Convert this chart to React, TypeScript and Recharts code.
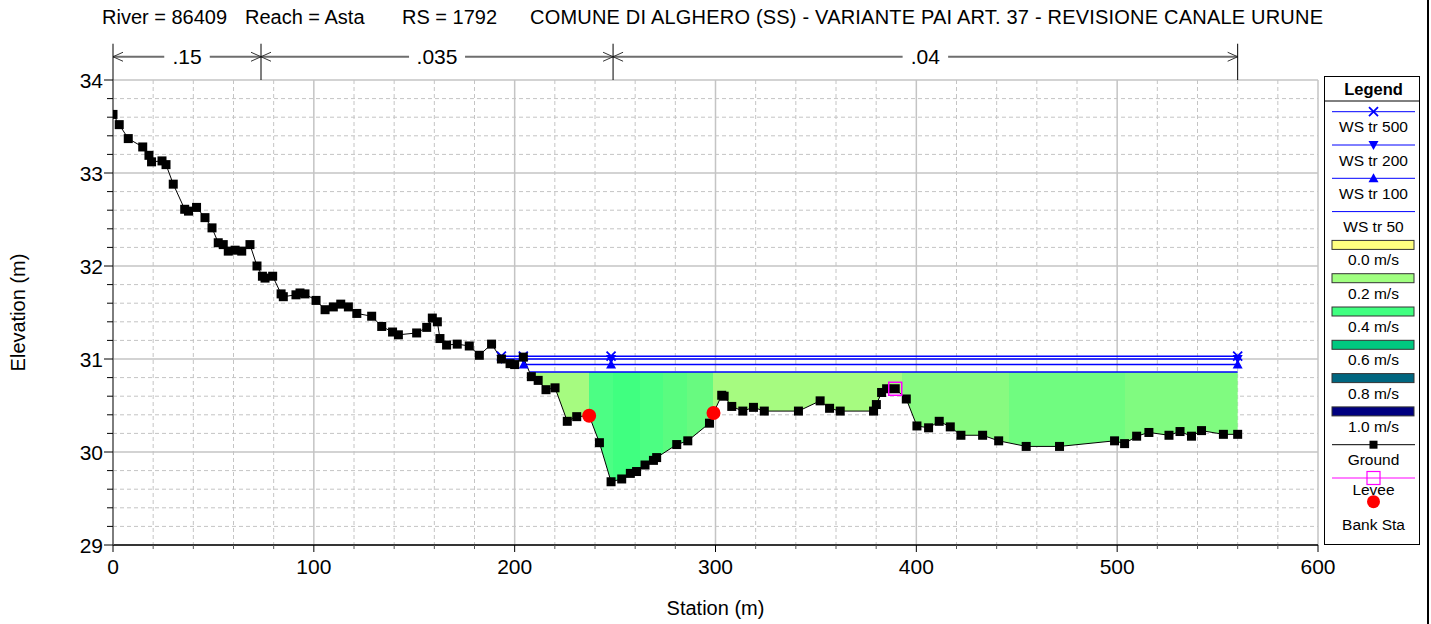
import React from "react";
import { ComposedChart, XAxis, YAxis, CartesianGrid, Line, Area, Scatter, ReferenceLine } from "recharts";

const FONT = "'Liberation Sans', Arial, sans-serif";

// ground profile (station m, elevation m)
const GROUND_STA = [
  0, 3.1, 7.6, 14.8, 17.9, 19.2, 24.4, 26.4, 30.0, 35.7,
  37.6, 41.6, 45.8, 49.3, 52.4, 54.9, 57.4, 60.8, 64.1, 68.2,
  71.7, 74.4, 75.7, 79.5, 83.7, 84.8, 91.1, 93.1, 95.6, 101.1,
  105.6, 109.7, 113.4, 117.2, 121.4, 128.8, 133.8, 139.2, 142.1, 151.2,
  156.2, 159.0, 161.5, 162.8, 166.1, 171.4, 177.4, 182.4, 188.5, 193.4,
  197.7, 200.0, 204.3, 208.3, 211.7, 215.6, 220.1, 226.2, 230.9, 237.1,
  242.2, 248.0, 253.3, 257.6, 260.7, 264.9, 269.1, 270.7, 280.7, 286.2,
  297.0, 299.0, 303.1, 304.3, 308.1, 313.6, 318.9, 324.3, 341.3, 352.1,
  356.8, 362.1, 378.7, 380.1, 382.7, 385.2, 389.5, 395.0, 400.3, 406.1,
  411.4, 416.9, 422.2, 433.0, 441.0, 454.7, 471.3, 498.7, 503.7, 509.7,
  515.8, 525.8, 531.3, 537.0, 542.0, 552.9, 560.0,
];
const GROUND_ELEV = [
  33.63, 33.52, 33.37, 33.28, 33.19, 33.12, 33.13, 33.09, 32.88, 32.61,
  32.59, 32.63, 32.52, 32.41, 32.25, 32.23, 32.16, 32.17, 32.16, 32.23,
  32.0, 31.89, 31.87, 31.89, 31.7, 31.67, 31.69, 31.71, 31.7, 31.63,
  31.53, 31.56, 31.59, 31.56, 31.49, 31.46, 31.35, 31.29, 31.26, 31.28,
  31.34, 31.44, 31.4, 31.22, 31.15, 31.16, 31.14, 31.04, 31.16, 31.0,
  30.95, 30.94, 31.02, 30.81, 30.77, 30.67, 30.69, 30.33, 30.38, 30.39,
  30.1, 29.68, 29.71, 29.77, 29.79, 29.86, 29.91, 29.94, 30.08, 30.12,
  30.31, 30.42, 30.61, 30.6, 30.49, 30.44, 30.48, 30.44, 30.44, 30.55,
  30.47, 30.44, 30.44, 30.51, 30.64, 30.68, 30.68, 30.57, 30.28, 30.26,
  30.33, 30.27, 30.18, 30.18, 30.12, 30.06, 30.06, 30.12, 30.09, 30.17,
  30.21, 30.18, 30.22, 30.17, 30.23, 30.19, 30.19,
];

const LEVEE_STA = [389.5];
const LEVEE_ELEV = [30.68];
const BANK_STA = [237.1, 299.0];
const BANK_ELEV = [30.39, 30.42];

// water surfaces
const WS500_STA = [193.4, 204.3, 248, 560];
const WS500_ELEV = 31.03;
const WS200_STA = [193.4, 204.3, 248, 560];
const WS200_ELEV = 31.0;
const WS100_STA = [204.5, 248, 560];
const WS100_ELEV = 30.94;
const WS50_ELEV = 30.86;
const WS50_END = 560;

// velocity strips under WS tr 50 (start stations after the wet edge)
const STRIP_STARTS = [237.1, 249, 262.5, 274, 286, 299, 393, 446, 504];
const STRIP_COLORS = ["#a6fb80", "#4cfe84", "#40ff80", "#4cfe82", "#5afc80", "#68fa80", "#a6fb80", "#88fa80", "#70fc80", "#80fb80"];

// Manning's n
const N_BOUNDS = [0, 73.7, 249.0, 560];
const N_VALUES = [".15", ".035", ".04"];
const N_LINE_ELEV = 34.25;
const N_TOP_ELEV = 34.39;

const X_TICKS = Array.from({ length: 31 }, (_, i) => i * 20);
const Y_TICKS = Array.from({ length: 26 }, (_, i) => (290 + i * 2) / 10);

const VEL_LABELS = ["0.0 m/s", "0.2 m/s", "0.4 m/s", "0.6 m/s", "0.8 m/s", "1.0 m/s"];
const VEL_COLORS = ["#ffff80", "#a0ff80", "#40ff80", "#00c880", "#006680", "#000080"];

const BLUE = "#0000ff";

function XMark({ cx, cy }: { cx: number; cy: number }) {
  const s = 4.5;
  return <path d={`M${cx - s},${cy - s}L${cx + s},${cy + s}M${cx - s},${cy + s}L${cx + s},${cy - s}`} stroke={BLUE} strokeWidth={1.8} />;
}
function TriDown({ cx, cy }: { cx: number; cy: number }) {
  return <polygon points={`${cx - 5},${cy - 4} ${cx + 5},${cy - 4} ${cx},${cy + 5}`} fill={BLUE} />;
}
function TriUp({ cx, cy }: { cx: number; cy: number }) {
  return <polygon points={`${cx - 5},${cy + 4} ${cx + 5},${cy + 4} ${cx},${cy - 5}`} fill={BLUE} />;
}

function gridLine(props: any) {
  const { x1, y1, x2, y2, index } = props;
  const major = index % 5 === 0;
  return (
    <line key={`g-${x1}-${y1}-${index}`} x1={x1} y1={y1} x2={x2} y2={y2} stroke="#c4c4c4"
      strokeWidth={major ? 1.5 : 1} strokeDasharray={major ? undefined : "4 3"} />
  );
}

function XTick(props: any) {
  const { x, y, payload } = props;
  const v = payload.value;
  const major = v % 100 === 0;
  return (
    <g>
      <line x1={x} x2={x} y1={y} y2={y + (major ? 7 : 4)} stroke={major ? "#000" : "#555"} />
      {major && <text x={x} y={y + 29} textAnchor="middle" fontSize={21} fill="#000" fontFamily={FONT}>{v}</text>}
    </g>
  );
}

function YTick(props: any) {
  const { x, y, payload } = props;
  const v = payload.value;
  const major = Math.abs(v - Math.round(v)) < 1e-6;
  return (
    <g>
      <line x1={x - (major ? 9 : 6)} x2={x} y1={y} y2={y} stroke="#000" />
      {major && <text x={x - 10} y={y + 8} textAnchor="end" fontSize={21} fill="#000" fontFamily={FONT}>{Math.round(v)}</text>}
    </g>
  );
}

function NSpan(props: any) {
  const { x1, x2, y1, label } = props;
  const mid = (x1 + x2) / 2;
  const half = (label.length * 0.5 * 21) / 2 + 7;
  return (
    <g>
      <line x1={x1} x2={mid - half} y1={y1} y2={y1} stroke="#6e6e6e" strokeWidth={2} />
      <line x1={mid + half} x2={x2} y1={y1} y2={y1} stroke="#6e6e6e" strokeWidth={2} />
      <polyline points={`${x1 + 10},${y1 - 4.5} ${x1},${y1} ${x1 + 10},${y1 + 4.5}`} fill="none" stroke="#333" />
      <polyline points={`${x2 - 10},${y1 - 4.5} ${x2},${y1} ${x2 - 10},${y1 + 4.5}`} fill="none" stroke="#333" />
      <text x={mid} y={y1 + 7.5} textAnchor="middle" fontSize={21} fill="#000" fontFamily={FONT}>{label}</text>
    </g>
  );
}

function LegendBox() {
  const lineY = (k: number) => 35.7 + 33.3 * k;
  const textY = (k: number) => 50.7 + 33.3 * k + 5.5;
  const cx = 49.5;
  const wsNames = ["WS tr 500", "WS tr 200", "WS tr 100", "WS tr 50"];
  const txt = (k: number, s: string, y?: number) => (
    <text key={`t${k}`} x={cx} y={y ?? textY(k)} textAnchor="middle" fontSize={15.5} fontFamily={FONT} fill="#000">{s}</text>
  );
  return (
    <svg style={{ position: "absolute", left: 1324, top: 76 }} width={97} height={470}>
      <rect x={0.5} y={0.5} width={95} height={468} fill="#fff" stroke="#000" />
      <text x={cx} y={18.5} textAnchor="middle" fontSize={16.5} fontWeight="bold" fontFamily={FONT}>Legend</text>
      <line x1={0.5} x2={95.5} y1={25} y2={25} stroke="#000" />
      {wsNames.map((n, k) => (
        <g key={n}>
          <line x1={8} x2={91} y1={lineY(k)} y2={lineY(k)} stroke={BLUE} />
          {k === 0 && <XMark cx={cx} cy={lineY(k)} />}
          {k === 1 && <TriDown cx={cx} cy={lineY(k)} />}
          {k === 2 && <TriUp cx={cx} cy={lineY(k)} />}
          {txt(k, n)}
        </g>
      ))}
      {VEL_LABELS.map((n, i) => (
        <g key={n}>
          <rect x={8} y={lineY(4 + i) - 4.5} width={82} height={9} fill={VEL_COLORS[i]} stroke="#333" />
          {txt(4 + i, n)}
        </g>
      ))}
      <line x1={8} x2={91} y1={lineY(10)} y2={lineY(10)} stroke="#000" />
      <rect x={cx - 4} y={lineY(10) - 4} width={8} height={8} fill="#000" />
      {txt(10, "Ground")}
      <line x1={8} x2={91} y1={lineY(11)} y2={lineY(11)} stroke="#ff00ff" />
      <rect x={cx - 6.5} y={lineY(11) - 6.5} width={13} height={13} fill="none" stroke="#ff00ff" strokeWidth={1.2} />
      {txt(11, "Levee", 419)}
      <circle cx={cx} cy={425.7} r={6.5} fill="#ff0000" />
      {txt(12, "Bank Sta", 454)}
    </svg>
  );
}

export default function App() {
  const ground = GROUND_STA.map((s, i) => ({ s, e: GROUND_ELEV[i] }));
  const levee = LEVEE_STA.map((s, i) => ({ s, e: LEVEE_ELEV[i] }));
  const banks = BANK_STA.map((s, i) => ({ s, e: BANK_ELEV[i] }));
  const ws500 = WS500_STA.map((s) => ({ s, e: WS500_ELEV }));
  const ws200 = WS200_STA.map((s) => ({ s, e: WS200_ELEV }));
  const ws100 = WS100_STA.map((s) => ({ s, e: WS100_ELEV }));

  // left wet edge of WS tr 50: last downward crossing of the ground
  let edge = GROUND_STA[0];
  let edgeIdx = 0;
  for (let i = 0; i < GROUND_STA.length - 1; i++) {
    const e0 = GROUND_ELEV[i], e1 = GROUND_ELEV[i + 1];
    if (e0 >= WS50_ELEV && e1 < WS50_ELEV) {
      edge = GROUND_STA[i] + ((WS50_ELEV - e0) / (e1 - e0)) * (GROUND_STA[i + 1] - GROUND_STA[i]);
      edgeIdx = i + 1;
    }
  }
  const wet = [
    { s: edge, band: [WS50_ELEV, WS50_ELEV] },
    ...ground.slice(edgeIdx).filter((p) => p.s <= WS50_END).map((p) => ({ s: p.s, band: [p.e, WS50_ELEV] })),
  ];
  const ws50 = [{ s: edge, e: WS50_ELEV }, { s: WS50_END, e: WS50_ELEV }];

  const span = WS50_END - edge;
  const bounds = [edge, ...STRIP_STARTS, WS50_END].map((b) => (b - edge) / span);

  return (
    <div style={{ position: "absolute", left: 0, top: 0, width: 1431, height: 624, background: "#fff", fontFamily: FONT }}>
      <ComposedChart width={1431} height={624} margin={{ top: 80, right: 113, bottom: 39, left: 13 }}>
        <defs>
          <linearGradient id="velFill" x1="0" y1="0" x2="1" y2="0">
            {STRIP_COLORS.map((c, i) => [
              <stop key={`a${i}`} offset={bounds[i]} stopColor={c} />,
              <stop key={`b${i}`} offset={bounds[i + 1]} stopColor={c} />,
            ])}
          </linearGradient>
        </defs>
        <CartesianGrid horizontal={gridLine} vertical={gridLine} />
        <XAxis type="number" dataKey="s" domain={[0, 600]} ticks={X_TICKS} interval={0} allowDataOverflow
          tickSize={0} tickMargin={0} tickLine={false} tick={<XTick />} height={40}
          axisLine={{ stroke: "#000", strokeWidth: 1.5 }}
          label={{ value: "Station (m)", position: "bottom", offset: 16, style: { fontSize: 20, fill: "#000", fontFamily: FONT } }} />
        <YAxis type="number" domain={[29, 34]} ticks={Y_TICKS} interval={0} allowDataOverflow
          tickSize={0} tickMargin={0} tickLine={false} tick={<YTick />} width={100}
          axisLine={{ stroke: "#606060", strokeWidth: 1.5 }}
          label={{ value: "Elevation (m)", angle: -90, position: "insideLeft", offset: 5, style: { textAnchor: "middle", fontSize: 20, fill: "#000", fontFamily: FONT } }} />
        <Area data={wet} dataKey="band" type="linear" stroke="none" fill="url(#velFill)" fillOpacity={1} isAnimationActive={false} />
        <Line data={ws500} dataKey="e" type="linear" stroke={BLUE} strokeWidth={1.5} isAnimationActive={false}
          dot={(p: any) => <XMark key={`x${p.index}`} cx={p.cx} cy={p.cy} />} />
        <Line data={ws200} dataKey="e" type="linear" stroke={BLUE} strokeWidth={1.5} isAnimationActive={false}
          dot={(p: any) => <TriDown key={`d${p.index}`} cx={p.cx} cy={p.cy} />} />
        <Line data={ws100} dataKey="e" type="linear" stroke={BLUE} strokeWidth={1.5} isAnimationActive={false}
          dot={(p: any) => <TriUp key={`u${p.index}`} cx={p.cx} cy={p.cy} />} />
        <Line data={ws50} dataKey="e" type="linear" stroke={BLUE} strokeWidth={1.5} dot={false} isAnimationActive={false} />
        <Line data={ground} dataKey="e" type="linear" stroke="#000" strokeWidth={1} isAnimationActive={false}
          dot={(p: any) => <rect key={`g${p.index}`} x={p.cx - 4.5} y={p.cy - 4.5} width={9} height={9} fill="#000" />} />
        <Scatter data={levee} dataKey="e" isAnimationActive={false}
          shape={(p: any) => <rect x={p.cx - 6.5} y={p.cy - 6.5} width={13} height={13} fill="none" stroke="#ff00ff" strokeWidth={1.5} />} />
        <Scatter data={banks} dataKey="e" isAnimationActive={false}
          shape={(p: any) => <circle cx={p.cx} cy={p.cy} r={7} fill="#ff0000" />} />
        {N_VALUES.map((v, i) => (
          <ReferenceLine key={`n${i}`} ifOverflow="visible"
            segment={[{ x: N_BOUNDS[i], y: N_LINE_ELEV }, { x: N_BOUNDS[i + 1], y: N_LINE_ELEV }]}
            shape={(p: any) => <NSpan {...p} label={v} />} />
        ))}
        {N_BOUNDS.map((b, i) => (
          <ReferenceLine key={`nb${i}`} ifOverflow="visible" stroke="#000" strokeWidth={1}
            segment={[{ x: b, y: 34 }, { x: b, y: N_TOP_ELEV }]} />
        ))}
      </ComposedChart>
      <svg style={{ position: "absolute", left: 0, top: 0 }} width={1431} height={34}>
        <g fontSize={20} fontFamily={FONT} fill="#000">
          <text x={102} y={24}>River = 86409</text>
          <text x={245} y={24}>Reach = Asta</text>
          <text x={402} y={24}>RS = 1792</text>
          <text x={530} y={24} textLength={793} lengthAdjust="spacing">COMUNE DI ALGHERO (SS) - VARIANTE PAI ART. 37 - REVISIONE CANALE URUNE</text>
        </g>
      </svg>
      <LegendBox />
      <div style={{ position: "absolute", left: 1427, top: 0, width: 2, height: 624, background: "#000" }} />
    </div>
  );
}
